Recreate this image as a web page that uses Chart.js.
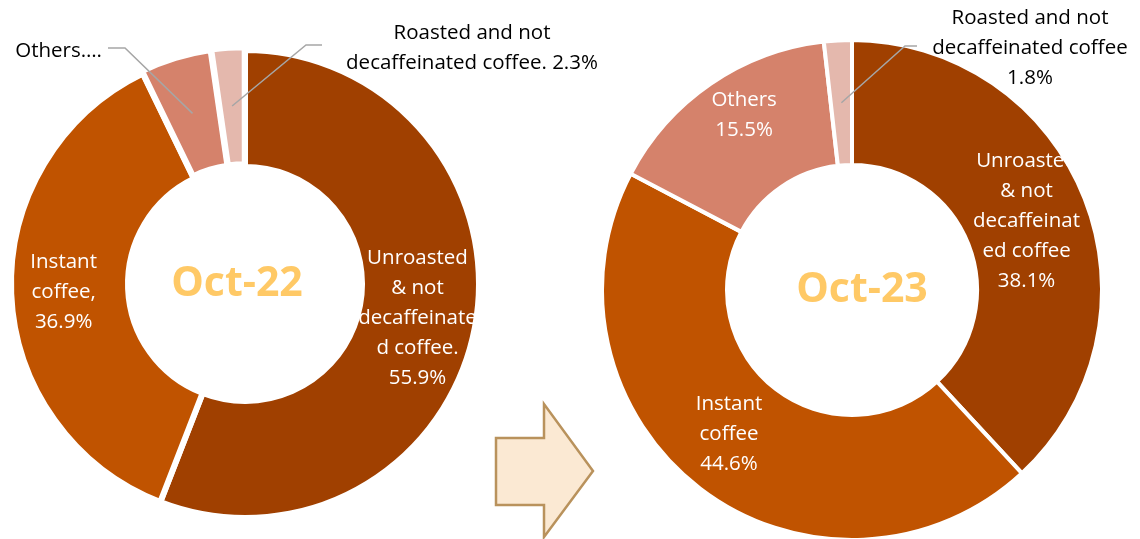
<!DOCTYPE html>
<html>
<head>
<meta charset="utf-8">
<script src="https://cdn.jsdelivr.net/npm/chart.js@4/dist/chart.umd.min.js"></script>
<style>
  html, body { margin: 0; padding: 0; background: #fff; }
  #wrap { position: relative; width: 1140px; height: 539px; overflow: hidden; }
  canvas, svg { position: absolute; top: 0; }
  #chart22 { left: 0; }
  #chart23 { left: 564px; }
  #arrow { left: 0; }
</style>
</head>
<body>
<div id="wrap">
  <svg id="arrow" width="620" height="539">
    <polygon points="496,438 544,438 544,404 593,471 544,537 544,505 496,505"
      fill="#FBE9D3" stroke="#B9925C" stroke-width="2.5" stroke-linejoin="miter"/>
  </svg>
  <canvas id="chart22" width="620" height="539"></canvas>
  <canvas id="chart23" width="576" height="539"></canvas>
</div>
<script>
// Dados
const categories = [
  "Unroasted & not decaffeinated coffee",
  "Instant coffee",
  "Others",
  "Roasted and not decaffeinated coffee",
];
const oct22Values = [55.9, 36.9, 4.9, 2.3];
const oct23Values = [38.1, 44.6, 15.5, 1.8];
const sliceColors = ["#A04000", "#C05300", "#D5826B", "#E4B8AD"];

// texto dos rótulos (como no original)
const oct22Labels = [
  ["Unroasted", "& not", "decaffeinate", "d coffee.", "55.9%"],
  ["Instant", "coffee,", "36.9%"],
  ["Others…."],
  ["Roasted and not", "decaffeinated coffee. 2.3%"],
];
const oct23Labels = [
  ["Unroasted", "& not", "decaffeinat", "ed coffee", "38.1%"],
  ["Instant", "coffee", "44.6%"],
  ["Others", "15.5%"],
  ["Roasted and not", "decaffeinated coffee", "1.8%"],
];

const FONT = "'Open Sans', sans-serif";

// Plugin: rótulos das fatias, linhas de chamada e título central
const sliceLabels = {
  id: "sliceLabels",
  afterDraw(chart, args, opts) {
    const ctx = chart.ctx;
    const arcs = chart.getDatasetMeta(0).data;
    const lineH = 30;
    ctx.save();
    ctx.textBaseline = "middle";
    ctx.font = "20.5px " + FONT;

    arcs.forEach((arc, i) => {
      const lines = opts.lines[i];
      const pos = arc.tooltipPosition();
      const out = opts.outside[i];
      if (out) {
        // linha de chamada
        ctx.strokeStyle = "#A6A6A6";
        ctx.lineWidth = 1.5;
        ctx.beginPath();
        ctx.moveTo(pos.x, pos.y);
        ctx.lineTo(out.elbow[0], out.elbow[1]);
        ctx.lineTo(out.end[0], out.end[1]);
        ctx.stroke();
        ctx.fillStyle = "#000";
        ctx.textAlign = out.align;
        lines.forEach((t, k) => ctx.fillText(t, out.x, out.y + k * lineH));
      } else {
        const shift = opts.shift[i] || [0, 0];
        const x = pos.x + shift[0];
        const y0 = pos.y + shift[1] - ((lines.length - 1) * lineH) / 2;
        ctx.fillStyle = "#fff";
        ctx.textAlign = "center";
        lines.forEach((t, k) => ctx.fillText(t, x, y0 + k * lineH));
      }
    });

    // título central
    const c = arcs[0];
    ctx.fillStyle = "#FFC966";
    ctx.textAlign = "center";
    ctx.font = "bold 41px " + FONT;
    ctx.fillText(opts.title, c.x + opts.titleDx, c.y);
    ctx.restore();
  },
};

function donut(id, values, labels, cfg) {
  return new Chart(document.getElementById(id), {
    type: "doughnut",
    data: {
      labels: categories,
      datasets: [
        {
          data: values,
          backgroundColor: sliceColors,
          borderColor: "#fff",
          borderWidth: cfg.border,
          offset: cfg.offset,
        },
      ],
    },
    options: {
      responsive: false,
      animation: false,
      events: [],
      radius: cfg.radius,
      cutout: "50%",
      layout: { padding: cfg.padding },
      plugins: {
        legend: { display: false },
        tooltip: { enabled: false },
        sliceLabels: {
          lines: labels,
          title: cfg.title,
          titleDx: cfg.titleDx,
          shift: cfg.shift,
          outside: cfg.outside,
        },
      },
    },
    plugins: [sliceLabels],
  });
}

// Gráfico Oct-22
donut("chart22", oct22Values, oct22Labels, {
  border: 6,
  offset: [0, 0, 6, 6],
  radius: 234,
  padding: { top: 29, right: 130 },
  title: "Oct-22",
  titleDx: -8,
  shift: [[0, 2], [-6, 1]],
  outside: [
    null,
    null,
    { elbow: [125, 48], end: [108, 48], x: 102, y: 51, align: "right" },
    { elbow: [306, 45], end: [322, 45], x: 472, y: 33, align: "center" },
  ],
});

// Gráfico Oct-23
donut("chart23", oct23Values, oct23Labels, {
  border: 4,
  offset: [0, 0, 0, 0],
  radius: 250,
  padding: { top: 41 },
  title: "Oct-23",
  titleDx: 10,
  shift: [[0, 0], [-9, -5], [-2, -20]],
  outside: [
    null,
    null,
    null,
    { elbow: [341, 46], end: [353, 46], x: 466, y: 18, align: "center" },
  ],
});
</script>
</body>
</html>
